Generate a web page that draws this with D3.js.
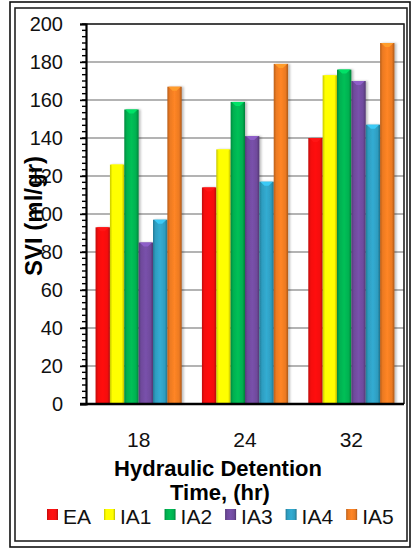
<!DOCTYPE html>
<html>
<head>
<meta charset="utf-8">
<script src="https://cdn.jsdelivr.net/npm/d3@7"></script>
<style>
  body { margin: 0; background: #fff; }
  text { font-family: "Liberation Sans", Arial, sans-serif; }
</style>
</head>
<body>
<div id="chart"></div>
<script>
var categories = ['18', '24', '32'];
var seriesNames = ['EA', 'IA1', 'IA2', 'IA3', 'IA4', 'IA5'];
var EA  = [93, 114, 140];
var IA1 = [126, 134, 173];
var IA2 = [155, 159, 176];
var IA3 = [85, 141, 170];
var IA4 = [97, 117, 147];
var IA5 = [167, 179, 190];
var yTicks = [0, 20, 40, 60, 80, 100, 120, 140, 160, 180, 200];
var colors = ['#f51010', '#ffff00', '#00b050', '#6f4a9c', '#2e9dc0', '#ec7a22'];

var series = [EA, IA1, IA2, IA3, IA4, IA5];

var svgWidth = 411, svgHeight = 550;
var plotLeft = 86, plotRight = 404, plotTop = 24, plotBottom = 404;

var svg = d3.select('#chart').append('svg')
  .attr('width', svgWidth).attr('height', svgHeight);

var defs = svg.append('defs');

// cylinder-ish shading for every colour
colors.forEach(function(c, i) {
  var g = defs.append('linearGradient').attr('id', 'grad' + i)
    .attr('x1', '0%').attr('x2', '100%').attr('y1', '0%').attr('y2', '0%');
  var base = d3.color(c);
  g.append('stop').attr('offset', '0%').attr('stop-color', base.darker(0.7));
  g.append('stop').attr('offset', '18%').attr('stop-color', base);
  g.append('stop').attr('offset', '50%').attr('stop-color', base.brighter(0.25));
  g.append('stop').attr('offset', '82%').attr('stop-color', base);
  g.append('stop').attr('offset', '100%').attr('stop-color', base.darker(0.9));
});

var shadow = defs.append('filter').attr('id', 'shadow')
  .attr('x', '-20%').attr('y', '-5%').attr('width', '160%').attr('height', '110%');
shadow.append('feDropShadow').attr('dx', 2).attr('dy', 0)
  .attr('stdDeviation', 1.2).attr('flood-color', '#000').attr('flood-opacity', 0.25);

// outer double frame
svg.append('rect').attr('x', 10).attr('y', 2).attr('width', 400).attr('height', 545)
  .attr('fill', 'none').attr('stroke', '#111').attr('stroke-width', 1.6);
svg.append('rect').attr('x', 15).attr('y', 8).attr('width', 392).attr('height', 533)
  .attr('fill', 'none').attr('stroke', '#222').attr('stroke-width', 1.6);

var x0 = d3.scaleBand().domain(categories).range([plotLeft, plotRight])
  .paddingInner(0.19).paddingOuter(0.09);
var x1 = d3.scaleBand().domain(seriesNames).range([0, x0.bandwidth()]);
var y = d3.scaleLinear().domain([0, 200]).range([plotBottom, plotTop]);

// grid lines
svg.append('g').selectAll('line').data(yTicks.slice(1)).enter().append('line')
  .attr('x1', plotLeft - 6).attr('x2', plotRight)
  .attr('y1', function(d) { return y(d); })
  .attr('y2', function(d) { return y(d); })
  .attr('stroke', '#9a9a9a').attr('stroke-width', 1.6);

// plot box top and right
svg.append('path')
  .attr('d', 'M' + plotLeft + ',' + plotTop + 'H' + plotRight + 'V' + plotBottom)
  .attr('fill', 'none').attr('stroke', '#222').attr('stroke-width', 1.6);

// bars
var groups = svg.append('g').selectAll('g').data(categories).enter().append('g')
  .attr('transform', function(d) { return 'translate(' + x0(d) + ',0)'; });

groups.each(function(cat, ci) {
  var g = d3.select(this);
  var rows = seriesNames.map(function(n, si) { return { name: n, i: si, v: series[si][ci] }; });
  g.selectAll('rect').data(rows).enter().append('rect')
    .attr('x', function(d) { return x1(d.name); })
    .attr('y', function(d) { return y(d.v); })
    .attr('width', x1.bandwidth())
    .attr('height', function(d) { return plotBottom - y(d.v); })
    .attr('fill', function(d) { return 'url(#grad' + d.i + ')'; })
    .attr('filter', 'url(#shadow)');
  // lighter bevel on the bar top
  g.selectAll('path.cap').data(rows).enter().append('path').attr('class', 'cap')
    .attr('d', function(d) {
      var bx = x1(d.name), bw = x1.bandwidth(), by = y(d.v);
      return 'M' + (bx + 1) + ',' + by + 'H' + (bx + bw - 1) +
        'L' + (bx + bw / 2 + 2) + ',' + (by + 4) + 'H' + (bx + bw / 2 - 2) + 'Z';
    })
    .attr('fill', function(d) { return d3.color(colors[d.i]).brighter(0.7); });
});

// y axis with minor ticks
var minor = d3.range(0, 200.01, 20 / 6);
svg.append('g').selectAll('line').data(minor).enter().append('line')
  .attr('x1', plotLeft - 4).attr('x2', plotLeft)
  .attr('y1', function(d) { return y(d); })
  .attr('y2', function(d) { return y(d); })
  .attr('stroke', '#000').attr('stroke-width', 1.4);

var yAxis = svg.append('g').attr('transform', 'translate(' + plotLeft + ',0)')
  .call(d3.axisLeft(y).tickValues(yTicks).tickSize(6).tickPadding(17));
yAxis.select('.domain').attr('stroke', '#000').attr('stroke-width', 2.2);
yAxis.selectAll('.tick line').attr('stroke', '#000').attr('stroke-width', 1.4);
yAxis.selectAll('.tick text').attr('font-size', 20).attr('fill', '#111')
  .attr('font-family', '"Liberation Sans", Arial, sans-serif');

// x axis
var xAxis = svg.append('g').attr('transform', 'translate(0,' + plotBottom + ')')
  .call(d3.axisBottom(x0).tickSize(0).tickPadding(28));
xAxis.select('.domain').attr('d', 'M' + (plotLeft - 6) + ',0H' + plotRight)
  .attr('stroke', '#000').attr('stroke-width', 2.6);
xAxis.selectAll('.tick text').attr('font-size', 21).attr('fill', '#111')
  .attr('font-family', '"Liberation Sans", Arial, sans-serif');

// axis titles
svg.append('text').attr('x', 218).attr('y', 476).attr('text-anchor', 'middle')
  .attr('font-size', 22).attr('font-weight', 'bold').text('Hydraulic Detention');
svg.append('text').attr('x', 220).attr('y', 500).attr('text-anchor', 'middle')
  .attr('font-size', 22).attr('font-weight', 'bold').text('Time, (hr)');

svg.append('text')
  .attr('transform', 'translate(42,216) rotate(-90)')
  .attr('text-anchor', 'middle').attr('font-size', 24).attr('font-weight', 'bold')
  .text('SVI (ml/gr)');

// legend
var legend = svg.append('g').attr('transform', 'translate(47,0)');
var lx = 0;
seriesNames.forEach(function(n, i) {
  var item = legend.append('g').attr('transform', 'translate(' + lx + ',0)');
  item.append('rect').attr('x', 0).attr('y', 509).attr('width', 11).attr('height', 11)
    .attr('fill', 'url(#grad' + i + ')');
  var t = item.append('text').attr('x', 16).attr('y', 524).attr('font-size', 21)
    .attr('fill', '#111').text(n);
  lx += 16 + t.node().getComputedTextLength() + 13;
});
</script>
</body>
</html>
